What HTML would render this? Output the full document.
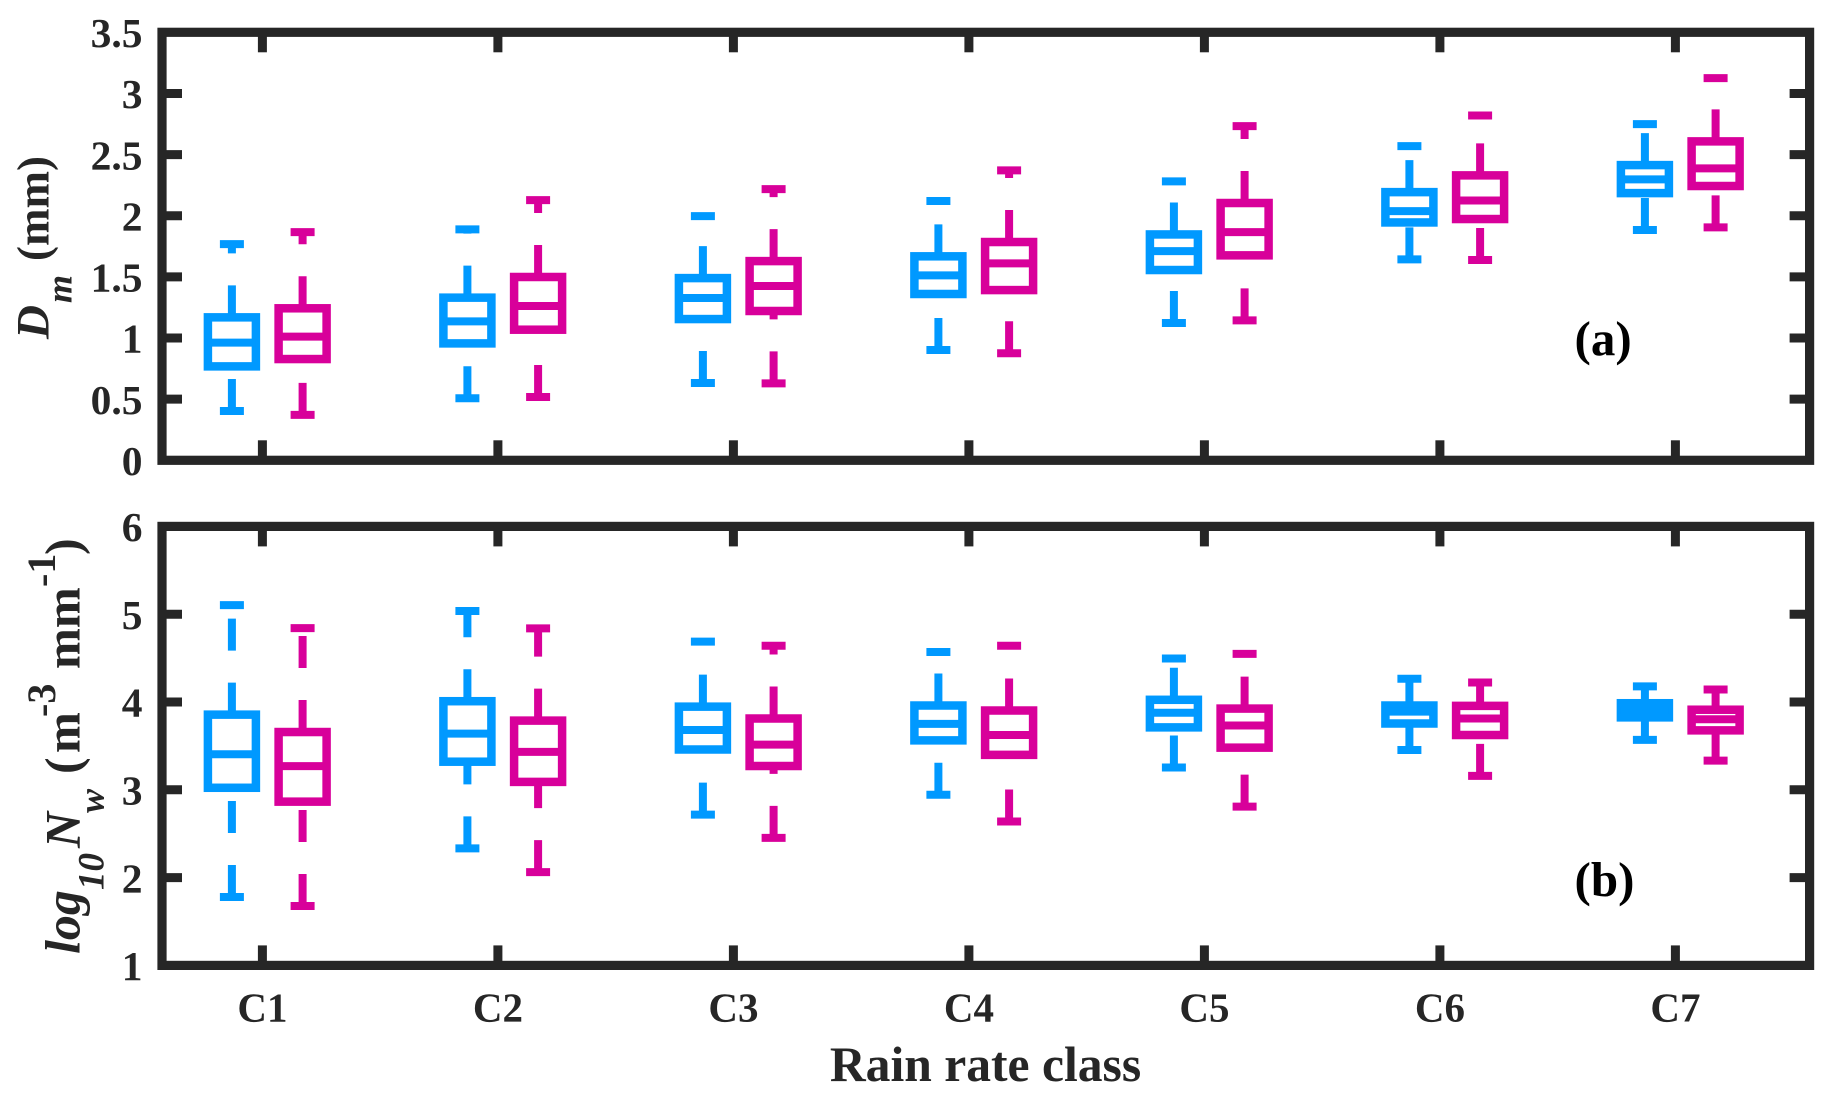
<!DOCTYPE html>
<html lang="en">
<head>
<meta charset="utf-8">
<title>Rain rate class box plots</title>
<style>
html,body{margin:0;padding:0;background:#fff;}
svg{display:block;}
text{font-family:"Liberation Serif",serif;font-weight:bold;fill:#262626;}
.it{font-style:italic;}
</style>
</head>
<body>
<svg id="chart" xmlns="http://www.w3.org/2000/svg" width="1832" height="1100" viewBox="0 0 1832 1100">
  <rect x="0" y="0" width="1832" height="1100" fill="#ffffff"/>
  <g id="panelA"></g>
  <g id="panelB"></g>

  <g transform="translate(48.5,339) rotate(-90)">
    <text class="it" x="0" y="0" font-size="47">D</text>
    <text class="it" x="36" y="23" font-size="36">m</text>
    <text x="78" y="0" font-size="45">(mm)</text>
  </g>

  <g transform="translate(79.5,954) rotate(-90)">
    <text class="it" x="0" y="0" font-size="50">log</text>
    <text class="it" x="64" y="24" font-size="37">10</text>
    <text class="it" x="106" y="0" font-size="50">N</text>
    <text class="it" x="141" y="24" font-size="36">w</text>
    <text x="180" y="0" font-size="50">(</text>
    <text x="201" y="0" font-size="49">m</text>
    <text x="237" y="-24.5" font-size="40">-3</text>
    <text x="285" y="0" font-size="49">mm</text>
    <text x="367" y="-24.5" font-size="40">-1</text>
    <text x="399" y="0" font-size="50">)</text>
  </g>

  <text x="985.5" y="1081" font-size="49.6" text-anchor="middle">Rain rate class</text>
  <text x="1574.5" y="355" font-size="49" style="fill:#000">(a)</text>
  <text x="1574.5" y="896" font-size="49" style="fill:#000">(b)</text>
</svg>

<script>
const categories = ['C1','C2','C3','C4','C5','C6','C7'];
const dmTickLabels = ['0','0.5','1','1.5','2','2.5','3','3.5'];
const nwTickLabels = ['1','2','3','4','5','6'];

const dmBlueHigh = [1.768,1.888,1.997,2.12,2.281,2.569,2.749];
const dmBlueQ3   = [1.169,1.330,1.490,1.668,1.847,2.193,2.414];
const dmBlueMed  = [0.962,1.136,1.327,1.512,1.711,2.038,2.297];
const dmBlueQ1   = [0.768,0.956,1.155,1.360,1.556,1.945,2.185];
const dmBlueLow  = [0.403,0.507,0.632,0.902,1.123,1.643,1.883];

const dmPinkHigh = [1.866,2.128,2.218,2.371,2.733,2.82,3.125];
const dmPinkQ3   = [1.243,1.499,1.629,1.785,2.104,2.330,2.608];
const dmPinkMed  = [1.011,1.262,1.425,1.610,1.866,2.125,2.387];
const dmPinkQ1   = [0.828,1.068,1.221,1.392,1.676,1.973,2.243];
const dmPinkLow  = [0.371,0.518,0.629,0.875,1.144,1.638,1.905];

const nwBlueHigh = [5.104,5.036,4.688,4.570,4.496,4.265,4.178];
const nwBlueQ3   = [3.856,4.009,3.947,3.960,4.025,3.960,3.986];
const nwBlueMed  = [3.405,3.640,3.681,3.751,3.877,3.890,3.903];
const nwBlueQ1   = [3.023,3.320,3.459,3.563,3.711,3.755,3.825];
const nwBlueLow  = [1.779,2.333,2.717,2.944,3.254,3.454,3.568];

const nwPinkHigh = [4.842,4.838,4.640,4.640,4.548,4.222,4.143];
const nwPinkQ3   = [3.658,3.788,3.812,3.903,3.925,3.956,3.912];
const nwPinkMed  = [3.270,3.432,3.515,3.624,3.733,3.812,3.803];
const nwPinkQ1   = [2.865,3.090,3.271,3.398,3.480,3.624,3.677];
const nwPinkLow  = [1.676,2.063,2.452,2.639,2.809,3.158,3.332];

const NS = 'http://www.w3.org/2000/svg';
const INK = '#262626';
const BLUE = '#0099ff';
const PINK = '#d8009a';
const LEFT = 162, RIGHT = 1809.6;

function xCat(i) { return 262.4 + 235.5 * i; }
function linearY(dMin, dMax, top, bottom) {
  return function (v) { return bottom - (v - dMin) / (dMax - dMin) * (bottom - top); };
}
function mk(tag, attrs, parent) {
  const e = document.createElementNS(NS, tag);
  for (const k in attrs) e.setAttribute(k, attrs[k]);
  parent.appendChild(e);
  return e;
}
function tickLine(parent, x1, y1, x2, y2, name) {
  const t = mk('line', {x1: x1, y1: y1, x2: x2, y2: y2, stroke: INK, 'stroke-width': 9}, parent);
  
  
}
function drawAxes(parent, top, bottom, yScale, tickLabels, showCats, prefix) {
  const frame = mk('rect', {x: LEFT, y: top, width: RIGHT - LEFT, height: bottom - top, fill: 'none', stroke: INK, 'stroke-width': 9.2}, parent);
  
  
  tickLabels.forEach(function (label) {
    const y = yScale(parseFloat(label));
    if (y > top + 1 && y < bottom - 1) {
      tickLine(parent, LEFT, y, LEFT + 20, y, prefix + '-y-tick-left');
      tickLine(parent, RIGHT, y, RIGHT - 20, y, prefix + '-y-tick-right');
    }
    const t = mk('text', {x: 142.5, y: y + 14.7, 'font-size': 41.5, 'text-anchor': 'end'}, parent);
    t.textContent = label;
    
    
  });
  categories.forEach(function (c, i) {
    const x = xCat(i);
    tickLine(parent, x, top, x, top + 20, prefix + '-x-tick-top');
    tickLine(parent, x, bottom, x, bottom - 20, prefix + '-x-tick-bottom');
    if (showCats) {
      const t = mk('text', {x: x, y: 1021.5, 'font-size': 41, 'text-anchor': 'middle'}, parent);
      t.textContent = c;
      
      
    }
  });
}
function drawSeries(parent, yScale, offset, color, hi, q3, med, q1, lo, prefix) {
  const W = 48, CAP = 24, LW = 8;
  categories.forEach(function (c, i) {
    const cx = xCat(i) + offset;
    const g = mk('g', {}, parent);
    
    

    const dash = {stroke: color, 'stroke-width': LW, 'stroke-dasharray': '32 32', fill: 'none'};
    const wl = mk('line', Object.assign({x1: cx, x2: cx, y1: yScale(lo[i]), y2: yScale(q1[i])}, dash), g);
    
    
    const wh = mk('line', Object.assign({x1: cx, x2: cx, y1: yScale(q3[i]), y2: yScale(hi[i])}, dash), g);
    
    

    const capStyle = {stroke: color, 'stroke-width': LW, x1: cx - CAP / 2, x2: cx + CAP / 2};
    const cl = mk('line', Object.assign({y1: yScale(lo[i]), y2: yScale(lo[i])}, capStyle), g);
    
    
    const ch = mk('line', Object.assign({y1: yScale(hi[i]), y2: yScale(hi[i])}, capStyle), g);
    
    

    const box = mk('rect', {x: cx - W / 2, y: yScale(q3[i]), width: W, height: yScale(q1[i]) - yScale(q3[i]), fill: 'none', stroke: color, 'stroke-width': LW + 0.5, 'stroke-linejoin': 'miter'}, g);
    
    
    const m = mk('line', {x1: cx - W / 2, x2: cx + W / 2, y1: yScale(med[i]), y2: yScale(med[i]), stroke: color, 'stroke-width': LW}, g);
    
    
  });
}

const BLUE_OFFSET = -30.5, PINK_OFFSET = 40.2;
const panelA = document.getElementById('panelA');
const panelB = document.getElementById('panelB');
const yDm = linearY(0, 3.5, 32.3, 460.3);
const yNw = linearY(1, 6, 526.4, 965.4);

drawAxes(panelA, 32.3, 460.3, yDm, dmTickLabels, false, 'dm');
drawSeries(panelA, yDm, BLUE_OFFSET, BLUE, dmBlueHigh, dmBlueQ3, dmBlueMed, dmBlueQ1, dmBlueLow, 'dm-blue');
drawSeries(panelA, yDm, PINK_OFFSET, PINK, dmPinkHigh, dmPinkQ3, dmPinkMed, dmPinkQ1, dmPinkLow, 'dm-magenta');

drawAxes(panelB, 526.4, 965.4, yNw, nwTickLabels, true, 'nw');
drawSeries(panelB, yNw, BLUE_OFFSET, BLUE, nwBlueHigh, nwBlueQ3, nwBlueMed, nwBlueQ1, nwBlueLow, 'nw-blue');
drawSeries(panelB, yNw, PINK_OFFSET, PINK, nwPinkHigh, nwPinkQ3, nwPinkMed, nwPinkQ1, nwPinkLow, 'nw-magenta');
</script>
</body>
</html>
